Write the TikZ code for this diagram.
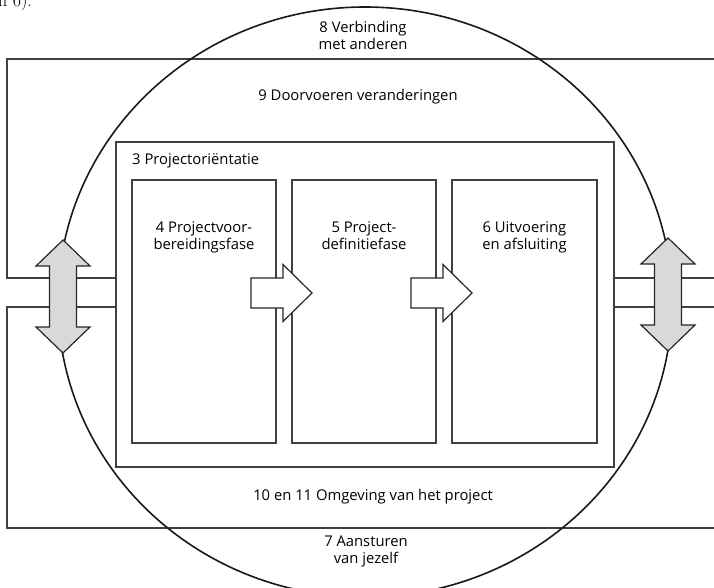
\documentclass[tikz,border=0pt]{standalone}
\usepackage{fontspec}
\setsansfont{Open Sans}
\usepackage{tikz}
\usetikzlibrary{positioning}

\begin{document}
\begin{tikzpicture}[
  x=1pt, y=-1pt,
  font=\sffamily\fontsize{14.8}{17}\selectfont,
  frame/.style={draw=black!75, line width=1.2pt},
  orient/.style={draw=black!75, line width=1.2pt, fill=white, minimum width=498pt, minimum height=325pt, inner sep=0pt},
  phase/.style={draw=black!75, line width=1.2pt, fill=white, minimum width=144pt, minimum height=263pt, inner sep=0pt},
  caption/.style={align=center, inner sep=0pt},
  ring/.style={draw=black!90, line width=1.6pt},
  flow/.style={draw=black!85, line width=1.2pt, fill=white, line join=miter},
  link/.style={draw=black!85, line width=1.2pt, fill=black!15, line join=miter}
]
\useasboundingbox (0,0) rectangle (714,588);

% rest of the page above the figure
\node[anchor=base west, inner sep=0pt, font=\rmfamily\fontsize{18}{20}\selectfont] (pagetext) at (-2,7) {n 6).};

% outer frame
\node[orient] (b3) at (365,304.5) {};
\draw[frame] (714,59) -- (7,59) -- (7,278) -- (b3.west |- 0,278);
\draw[frame] (714,528) -- (7,528) -- (7,307) -- (b3.west |- 0,307);
\draw[frame] (b3.east |- 0,278) -- (714,278);
\draw[frame] (b3.east |- 0,307) -- (714,307);

\draw[ring] (365,302) ellipse [x radius=307pt, y radius=295pt];

\node[caption] (t8) at (363,35) {8 Verbinding\\met anderen};
\node[caption] (t9) at (358,97) {9 Doorvoeren veranderingen};
\node[caption] (t10) at (373,497) {10 en 11 Omgeving van het project};
\node[caption] (t7) at (366,551) {7 Aansturen\\van jezelf};

% project phases
\node[anchor=west, inner sep=0pt] (t3) at (132,161) {3 Projectoriëntatie};

\node[phase] (b4) at (204,311.5) {};
\node[phase] (b5) at (364,311.5) {};
\node[phase, minimum width=145pt] (b6) at (524.5,311.5) {};

\node[caption, below=42pt of b4.north] (t4) {4 Projectvoor-\\bereidingsfase};
\node[caption, below=42pt of b5.north] (t5) {5 Project-\\definitiefase};
\node[caption, below=42pt of b6.north] (t6) {6 Uitvoering\\en afsluiting};

% arrows between the phases
\foreach \x in {251,411}
  \draw[flow] (\x,278) -- ++(32,0) -- ++(0,-13.5) -- ++(29,28.5) -- ++(-29,28.5)
    -- ++(0,-13.5) -- ++(-32,0) -- cycle;

% links to the outside
\draw[link] (63,240) -- ++(27,26) -- ++(-13.5,0) -- ++(0,61) -- ++(13.5,0) -- ++(-27,26)
  -- ++(-27,-26) -- ++(13.5,0) -- ++(0,-61) -- ++(-13.5,0) -- cycle;
\draw[link] (668,238) -- ++(27,26) -- ++(-13.5,0) -- ++(0,61) -- ++(13.5,0) -- ++(-27,26)
  -- ++(-27,-26) -- ++(13.5,0) -- ++(0,-61) -- ++(-13.5,0) -- cycle;

\end{tikzpicture}
\end{document}
